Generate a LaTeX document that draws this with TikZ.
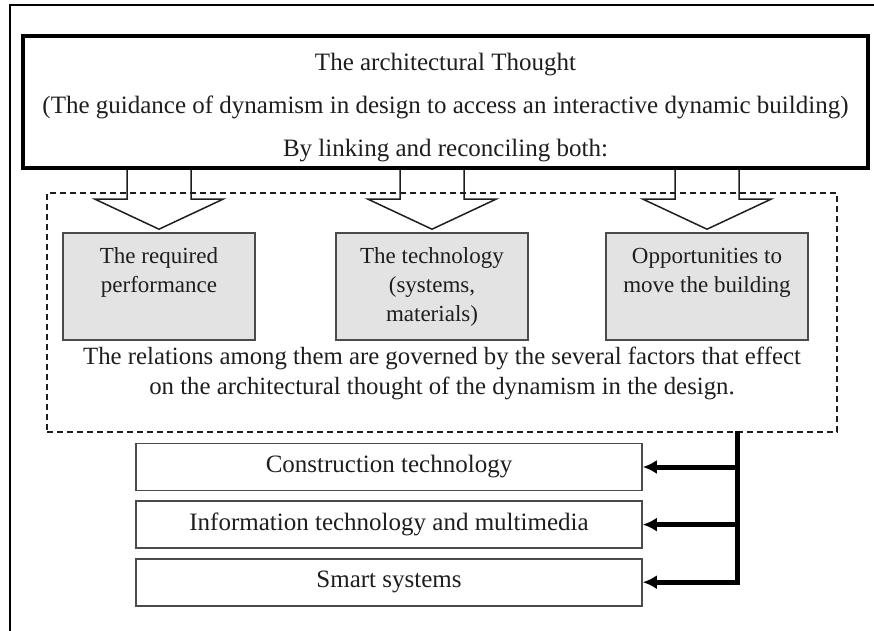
\documentclass[tikz,border=0pt]{standalone}
\usepackage{fontspec}
\setmainfont{Liberation Serif}
\usepackage{tikz}
\usetikzlibrary{%
	arrows.meta,%
	shapes.misc,%
	positioning,% wg. " of "
	scopes%
}
\usepackage{xcolor}
\definecolor{boxgray}{HTML}{E3E3E3}
\definecolor{ink}{HTML}{1E1E1E}

\begin{document}
\begin{tikzpicture}[
x=0.5pt,y=-0.5pt,
>={Latex[length=7pt,width=7pt]},
line join=miter,
thought/.style={rectangle,draw=black,line width=2pt,fill=white,
minimum width=422.5pt,minimum height=64pt,align=center,text=ink,
font=\fontsize{12.5}{21.5}\selectfont},
group/.style={rectangle,draw=ink,line width=0.8pt,
dash pattern=on 3pt off 2pt,minimum width=395pt,minimum height=119.5pt},
factor/.style={rectangle,draw=ink!80,line width=0.8pt,fill=boxgray,
minimum width=96pt,minimum height=53.5pt,align=center,text=ink,
font=\fontsize{11.5}{14.5}\selectfont},
remark/.style={align=center,text=ink,font=\fontsize{12.4}{15}\selectfont},
field/.style={rectangle,draw=ink!80,line width=0.8pt,fill=white,
minimum width=253pt,minimum height=23.5pt,text=ink,
font=\fontsize{12.5}{14}\selectfont},
blockarrow/.style={draw=ink,line width=0.75pt},
feed/.style={->,draw=black,line width=2.5pt}
]
\useasboundingbox (0,0) rectangle (874,631);

% outer frame
\draw[line width=1.2pt] (10,650) -- (10,5) -- (890,5);

% dashed group with the three factors
\node[group] (grp) at (442,312.5) {};
\node[factor] (req)  at (159,286.5) {\strut The required\\\strut performance\\\strut};
\node[factor] (tech) at (432,286.5) {\strut The technology\\\strut (systems,\\\strut materials)};
\node[factor,minimum width=101pt] (move) at (707,286.5) {\strut Opportunities to\\\strut move the building\\\strut};
\node[remark] (rel) at (442,373) {The relations among them are governed by the several factors that effect\\on the architectural thought of the dynamism in the design.};

% block arrows down from the thought
\foreach \n in {req,tech,move}
  \draw[blockarrow] ([yshift=1.5pt]\n.north) -- ++(-64,-30) -- ++(32,0) -- ++(0,-36)
    -- ++(64,0) -- ++(0,36) -- ++(32,0) -- cycle;

\node[thought] (top) at (445.5,102) {\rule{0pt}{14pt}The architectural Thought\\(The guidance of dynamism in design to access an interactive dynamic building)\\By linking and reconciling both:};

% fields
\node[field] (constr) at (389,467) {Construction technology};
\node[field,below=4.5pt of constr] (info) {Information technology and multimedia};
\node[field,below=4.5pt of info] (smart) {Smart systems};

\coordinate (bus) at (737,431);
\draw[feed] (bus) |- (constr.east);
\draw[feed] (bus) |- (info.east);
\draw[feed] (bus) |- (smart.east);
\end{tikzpicture}
\end{document}
